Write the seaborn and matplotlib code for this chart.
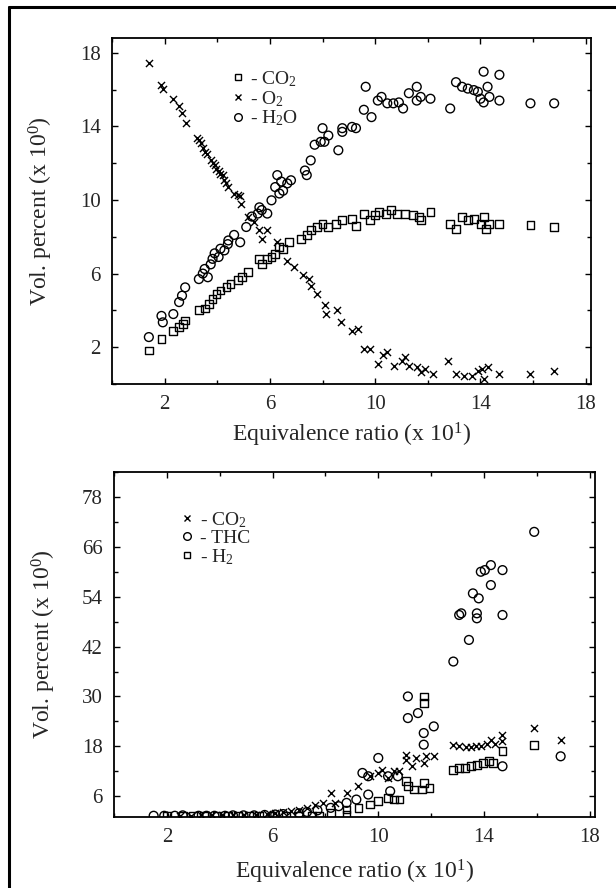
import numpy as np
import pandas as pd
import matplotlib
matplotlib.use("Agg")
import matplotlib.pyplot as plt
import seaborn as sns
from matplotlib.lines import Line2D
from matplotlib.ticker import MultipleLocator

# ---------------- data: top panel ----------------
top_co2_x = [1.4, 1.88, 2.33, 2.55, 2.7, 2.78, 3.3, 3.52, 3.67, 3.82, 3.97, 4.12, 4.35, 4.5, 4.79, 4.94,
             5.16, 5.6, 5.69, 5.9, 6.06, 6.2, 6.36, 6.5, 6.73, 7.18, 7.4, 7.55, 7.78, 8.0, 8.22, 8.52,
             8.75, 9.12, 9.27, 9.57, 9.8, 10.0, 10.16, 10.4, 10.6, 10.84, 11.13, 11.43, 11.66, 11.73,
             12.1, 12.85, 13.07, 13.3, 13.52, 13.75, 14.0, 14.12, 14.2, 14.34, 14.72, 15.9, 16.8]
top_co2_y = [1.82, 2.45, 2.9, 3.1, 3.27, 3.45, 4.0, 4.1, 4.35, 4.63, 4.9, 5.08, 5.27, 5.45, 5.63, 5.8,
             6.08, 6.8, 6.54, 6.8, 6.9, 7.08, 7.44, 7.35, 7.7, 7.9, 8.08, 8.35, 8.53, 8.7, 8.53, 8.7,
             8.9, 8.98, 8.6, 9.26, 8.9, 9.17, 9.35, 9.26, 9.44, 9.26, 9.26, 9.17, 9.08, 8.9,
             9.35, 8.7, 8.44, 9.08, 8.9, 8.98, 8.7, 9.08, 8.44, 8.7, 8.7, 8.62, 8.53]

top_o2_x = [1.4, 1.88, 1.95, 2.33, 2.55, 2.66, 2.8, 3.22, 3.3, 3.37, 3.45, 3.52, 3.6, 3.75, 3.82, 3.9,
            3.97, 4.05, 4.12, 4.2, 4.27, 4.35, 4.42, 4.64, 4.8, 4.87, 4.9, 5.16, 5.4, 5.6, 5.7, 5.9,
            6.28, 6.66, 6.9, 7.25, 7.48, 7.55, 7.8, 8.1, 8.15, 8.55, 8.7, 9.1, 9.35, 9.57, 9.8,
            10.1, 10.3, 10.46, 10.7, 11.0, 11.13, 11.28, 11.58, 11.73, 11.88, 12.18, 12.78, 13.07,
            13.37, 13.67, 13.9, 14.05, 14.12, 14.27, 14.72, 15.9, 16.8]
top_o2_y = [17.43, 16.25, 16.05, 15.5, 15.1, 14.7, 14.2, 13.35, 13.25, 13.1, 12.8, 12.6, 12.5, 12.15, 12.0, 11.9,
            11.7, 11.6, 11.4, 11.35, 11.1, 10.9, 10.7, 10.35, 10.25, 10.2, 9.8, 9.1, 8.8, 8.35, 7.9, 8.35,
            7.7, 6.7, 6.35, 5.9, 5.7, 5.3, 4.9, 4.27, 3.8, 4.0, 3.36, 2.9, 3.0, 1.9, 1.9,
            1.1, 1.55, 1.73, 1.0, 1.27, 1.45, 1.0, 0.9, 0.64, 0.82, 0.55, 1.27, 0.55,
            0.46, 0.46, 0.73, 0.82, 0.28, 0.9, 0.55, 0.55, 0.73]

top_h2o_x = [1.4, 1.88, 1.93, 2.33, 2.55, 2.66, 2.78, 3.3, 3.45, 3.52, 3.64, 3.75, 3.82, 3.9, 4.05, 4.12,
             4.27, 4.4, 4.42, 4.64, 4.87, 5.1, 5.31, 5.54, 5.6, 5.69, 5.9, 6.06, 6.2, 6.28, 6.36, 6.43,
             6.5, 6.66, 6.8, 7.33, 7.4, 7.55, 7.7, 7.93, 8.0, 8.07, 8.22, 8.6, 8.75, 8.75, 9.12, 9.27,
             9.64, 9.57, 9.86, 10.1, 10.24, 10.46, 10.69, 10.9, 11.06, 11.28, 11.58, 11.58, 11.73, 12.1,
             12.85, 13.07, 13.3, 13.52, 13.75, 13.9, 14.0, 14.12, 14.12, 14.27, 14.34, 14.72, 14.72,
             15.9, 16.8]
top_h2o_y = [2.55, 3.7, 3.35, 3.8, 4.45, 4.8, 5.25, 5.7, 6.0, 6.25, 5.8, 6.5, 6.8, 7.1, 6.9, 7.35,
             7.26, 7.6, 7.8, 8.1, 7.7, 8.53, 9.1, 9.26, 9.6, 9.45, 9.26, 9.98, 10.7, 11.35, 10.35, 11.0,
             10.5, 10.9, 11.07, 11.6, 11.35, 12.15, 13.0, 13.16, 13.9, 13.16, 13.5, 12.7, 13.7, 13.9, 13.97, 13.9,
             16.15, 14.9, 14.5, 15.4, 15.6, 15.25, 15.25, 15.3, 14.97, 15.8, 16.15, 15.4, 15.6, 15.5,
             14.97, 16.4, 16.15, 16.05, 15.97, 15.88, 15.5, 16.97, 15.3, 16.15, 15.6, 16.8, 15.4,
             15.25, 15.25]

# ---------------- data: bottom panel ----------------
bot_co2_x = [2.5, 2.9, 3.3, 3.7, 4.1, 4.5, 4.9, 5.36, 5.8, 6.1, 6.4, 6.7, 7.0, 7.3, 7.6, 7.9, 8.2, 8.35,
             8.8, 9.25, 9.7, 10.0, 10.15, 10.37, 10.6, 10.8, 11.04, 11.04, 11.27, 11.42, 11.72, 11.8, 12.1,
             12.84, 13.06, 13.3, 13.5, 13.7, 13.9, 14.1, 14.26, 14.4, 14.7, 14.7, 15.9, 16.9]
bot_co2_y = [1.3, 1.3, 1.4, 1.4, 1.5, 1.5, 1.6, 1.6, 1.8, 2.0, 2.2, 2.4, 2.8, 3.2, 4.0, 4.4, 6.8, 4.4,
             6.8, 8.4, 10.8, 11.6, 12.4, 10.4, 12.0, 12.0, 16.0, 14.8, 13.2, 15.2, 14.0, 15.6, 15.6,
             18.4, 18.2, 17.8, 17.8, 18.0, 18.2, 18.6, 19.6, 18.6, 20.8, 19.2, 22.4, 19.6]

bot_thc_x = [1.5, 1.9, 2.3, 2.6, 3.2, 3.5, 3.8, 4.2, 4.5, 4.9, 5.3, 5.7, 6.1, 6.4, 7.0, 7.3, 7.7,
             8.2, 8.5, 8.8, 9.17, 9.4, 9.62, 9.62, 10.0, 10.37, 10.45, 10.74, 11.12, 11.12, 11.5,
             11.72, 11.72, 12.1, 12.84, 13.06, 13.14, 13.43, 13.58, 13.73, 13.73, 13.8, 13.88, 14.03,
             14.26, 14.26, 14.7, 14.7, 14.7, 15.9, 16.9]
bot_thc_y = [1.3, 1.3, 1.3, 1.4, 1.3, 1.3, 1.3, 1.3, 1.4, 1.4, 1.4, 1.5, 1.6, 1.7, 1.9, 2.2, 2.6,
             3.2, 3.6, 4.4, 5.2, 11.6, 10.8, 6.4, 15.2, 10.8, 7.2, 10.8, 30.0, 24.8, 26.0,
             21.2, 18.4, 22.8, 38.4, 49.6, 50.0, 43.6, 54.8, 50.0, 48.8, 53.6, 60.0, 60.4,
             56.8, 61.6, 60.4, 49.6, 13.2, 69.6, 15.6]

bot_h2_x = [2.0, 2.6, 3.0, 3.4, 3.9, 4.3, 4.7, 5.1, 5.5, 6.0, 6.5, 7.0, 7.5, 7.75, 8.2, 8.8, 8.8,
            9.25, 9.7, 10.0, 10.37, 10.6, 10.8, 11.04, 11.12, 11.34, 11.64, 11.72, 11.72, 11.72, 11.94,
            12.84, 13.06, 13.28, 13.5, 13.73, 13.96, 14.2, 14.33, 14.7, 15.9]
bot_h2_y = [1.2, 1.2, 1.2, 1.2, 1.2, 1.2, 1.2, 1.2, 1.2, 1.2, 1.2, 1.2, 1.2, 1.2, 2.0, 2.8, 1.6,
            3.2, 4.0, 4.8, 5.6, 5.2, 5.2, 9.6, 8.4, 7.6, 7.6, 9.2, 30.0, 28.4, 8.0,
            12.4, 12.8, 12.8, 13.2, 13.6, 14.0, 14.4, 14.0, 16.8, 18.4]

top_labels = ["- CO$_2$", "- O$_2$", "- H$_2$O"]
bot_labels = ["- CO$_2$", "- THC", "- H$_2$"]
x_ticks = [2, 6, 10, 14, 18]
top_y_ticks = [2, 6, 10, 14, 18]
bot_y_ticks = [6, 18, 30, 42, 54, 66, 78]
x_label = "Equivalence ratio (x 10$^1$)"
y_label = "Vol. percent (x 10$^0$)"

# ---------------- style ----------------
sns.set_theme(style="white")
plt.rcParams["font.family"] = ["Liberation Serif", "DejaVu Serif"]
plt.rcParams["mathtext.fontset"] = "custom"
plt.rcParams["mathtext.rm"] = "Liberation Serif"
plt.rcParams["mathtext.it"] = "Liberation Serif:italic"

W, H = 616, 888
fig = plt.figure(figsize=(W / 100, H / 100), dpi=100)
ax1 = fig.add_axes([112 / W, 1 - 384 / H, 479 / W, 346 / H])
ax2 = fig.add_axes([114 / W, 1 - 817 / H, 481 / W, 345 / H])

MS = 40
LW = 1.0
sq = dict(marker="s", s=MS * 0.8, facecolor="none", edgecolor="black", linewidth=LW)
ci = dict(marker="o", s=MS, facecolor="none", edgecolor="black", linewidth=LW)
xx = dict(marker="x", s=MS * 0.65, color="black", linewidth=LW)

sns.scatterplot(x=top_co2_x, y=top_co2_y, ax=ax1, **sq)
sns.scatterplot(x=top_o2_x, y=top_o2_y, ax=ax1, **xx)
sns.scatterplot(x=top_h2o_x, y=top_h2o_y, ax=ax1, **ci)

sns.scatterplot(x=bot_co2_x, y=bot_co2_y, ax=ax2, **xx)
sns.scatterplot(x=bot_thc_x, y=bot_thc_y, ax=ax2, **ci)
sns.scatterplot(x=bot_h2_x, y=bot_h2_y, ax=ax2, **sq)

ax1.set_xlim(0, 18.2)
ax1.set_ylim(0, 18.8)
ax2.set_xlim(0, 18.2)
ax2.set_ylim(1.0, 84)

for ax, yt, ymin in ((ax1, top_y_ticks, 2), (ax2, bot_y_ticks, 6)):
    ax.set_xticks(x_ticks)
    ax.set_yticks(yt)
    ax.xaxis.set_minor_locator(MultipleLocator(2))
    ax.yaxis.set_minor_locator(MultipleLocator(ymin))
    ax.tick_params(which="both", direction="in", top=True, right=True, bottom=True, left=True,
                   color="black", width=1.0)
    ax.tick_params(which="major", length=4, labelsize=15, pad=8)
    ax.tick_params(which="minor", length=3)
    for sp in ax.spines.values():
        sp.set_color("black")
        sp.set_linewidth(1.3)
    ax.set_xlabel(x_label, fontsize=17)
    ax.set_ylabel(y_label, fontsize=17)

ax1.xaxis.set_label_coords(0.5, -0.105)
ax1.yaxis.set_label_coords(-0.118, 0.5)
ax2.xaxis.set_label_coords(0.5, -0.118)
ax2.yaxis.set_label_coords(-0.116, 0.5)

h_sq = Line2D([], [], ls="none", marker="s", ms=5, mfc="none", mec="black", mew=LW)
h_ci = Line2D([], [], ls="none", marker="o", ms=5.5, mfc="none", mec="black", mew=LW)
h_xx = Line2D([], [], ls="none", marker="x", ms=5, color="black", mew=LW)

ax1.legend([h_sq, h_xx, h_ci], top_labels, loc="upper left", bbox_to_anchor=(0.25, 0.91),
           frameon=False, fontsize=14, handlelength=0.6, handletextpad=0.35, labelspacing=0.0,
           borderpad=0, borderaxespad=0)
ax2.legend([h_xx, h_ci, h_sq], bot_labels, loc="upper left", bbox_to_anchor=(0.14, 0.89),
           frameon=False, fontsize=14, handlelength=0.6, handletextpad=0.35, labelspacing=0.0,
           borderpad=0, borderaxespad=0)

# outer frame (scan border)
fig.add_artist(Line2D([9 / W, 9 / W], [0, 1 - 7 / H], transform=fig.transFigure, color="black", lw=2.2))
fig.add_artist(Line2D([9 / W, 1], [1 - 7 / H, 1 - 7 / H], transform=fig.transFigure, color="black", lw=2.2))

fig.savefig("out.png", dpi=100)
